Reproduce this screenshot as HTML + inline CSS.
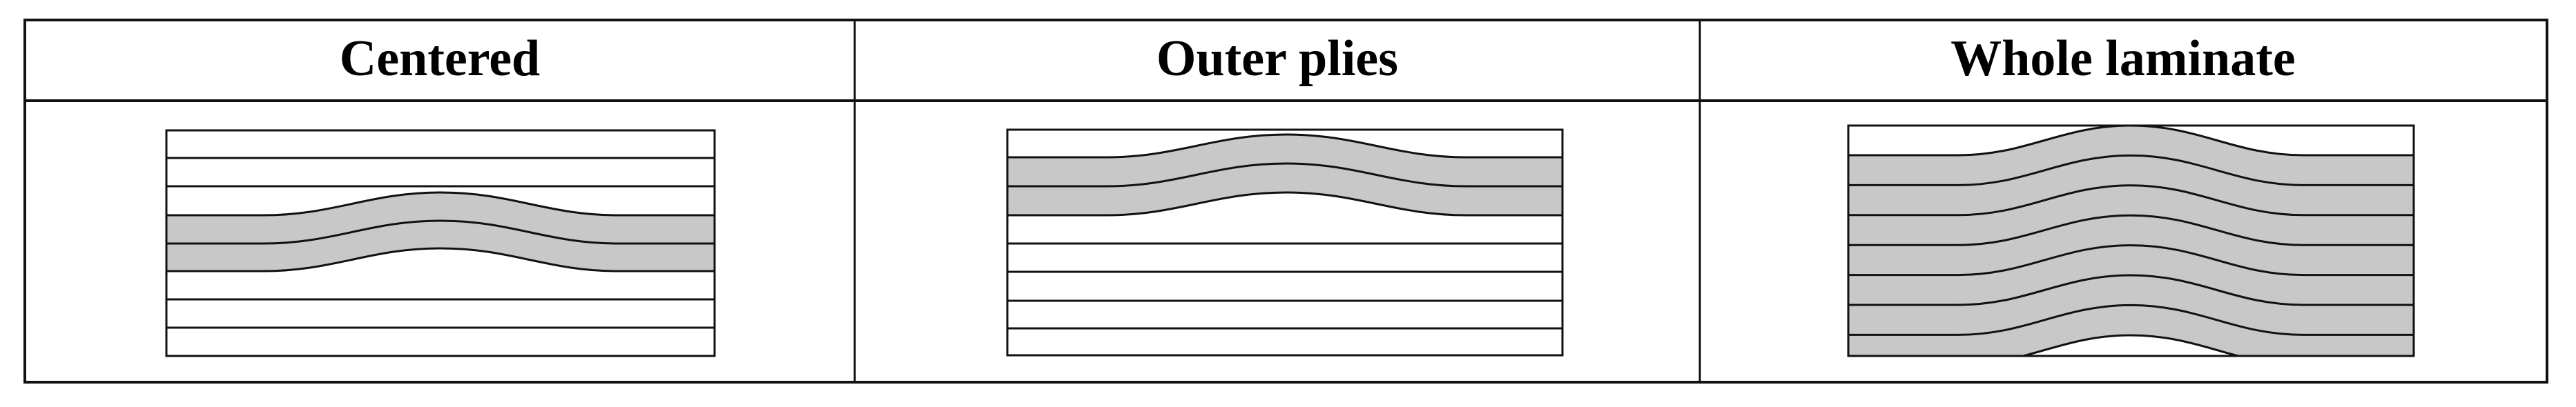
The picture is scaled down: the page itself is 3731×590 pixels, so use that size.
<!DOCTYPE html>
<html><head><meta charset="utf-8"><style>
html,body{margin:0;padding:0;background:#fff;}
svg{display:block;}
</style></head><body>
<svg width="3731" height="590" viewBox="0 0 3731 590" xmlns="http://www.w3.org/2000/svg">
<defs>
<clipPath id="cr"><rect x="2677" y="182" width="819" height="334"/></clipPath>
</defs>
<rect width="3731" height="590" fill="#fff"/>
<!-- table -->
<rect x="36" y="29" width="3653" height="525" fill="none" stroke="#111" stroke-width="4"/>
<line x1="36" y1="146" x2="3689" y2="146" stroke="#111" stroke-width="4"/>
<line x1="1238" y1="29" x2="1238" y2="554" stroke="#111" stroke-width="3"/>
<line x1="2462" y1="29" x2="2462" y2="554" stroke="#111" stroke-width="3"/>
<g font-family="'Liberation Serif', serif" font-weight="bold" font-size="74" text-anchor="middle" fill="#000">
<text x="637" y="109">Centered</text>
<text x="1850" y="109">Outer plies</text>
<text x="3075" y="109">Whole laminate</text>
</g>

<!-- Left panel -->
<g stroke="#111" stroke-width="3" fill="none">
<path d="M241,312 H381 C484,312 535,279 638,279 C741,279 792,312 895,312 H1035 V393 H895 C792,393 741,360 638,360 C535,360 484,393 381,393 H241 Z" fill="#c8c8c8" stroke="none"/>
<rect x="241" y="189" width="794" height="327"/>
<line x1="241" y1="229" x2="1035" y2="229"/>
<line x1="241" y1="270" x2="1035" y2="270"/>
<line x1="241" y1="434" x2="1035" y2="434"/>
<line x1="241" y1="475" x2="1035" y2="475"/>
<path d="M241,312 H381 C484,312 535,279 638,279 C741,279 792,312 895,312 H1035"/>
<path d="M241,353 H381 C484,353 535,320 638,320 C741,320 792,353 895,353 H1035"/>
<path d="M241,393 H381 C484,393 535,360 638,360 C741,360 792,393 895,393 H1035"/>
</g>

<!-- Middle panel -->
<g stroke="#111" stroke-width="3" fill="none">
<path d="M1459,228 H1602 C1706,228 1759,195 1863,195 C1967,195 2020,228 2124,228 H2263 V312 H2124 C2020,312 1967,279 1863,279 C1759,279 1706,312 1602,312 H1459 Z" fill="#c8c8c8" stroke="none"/>
<rect x="1459" y="188" width="804" height="327"/>
<path d="M1459,228 H1602 C1706,228 1759,195 1863,195 C1967,195 2020,228 2124,228 H2263"/>
<path d="M1459,270 H1602 C1706,270 1759,237 1863,237 C1967,237 2020,270 2124,270 H2263"/>
<path d="M1459,312 H1602 C1706,312 1759,279 1863,279 C1967,279 2020,312 2124,312 H2263"/>
<line x1="1459" y1="353" x2="2263" y2="353"/>
<line x1="1459" y1="394" x2="2263" y2="394"/>
<line x1="1459" y1="436" x2="2263" y2="436"/>
<line x1="1459" y1="476" x2="2263" y2="476"/>
</g>

<!-- Right panel -->
<g clip-path="url(#cr)" stroke="#111" stroke-width="3" fill="none">
<path d="M2677,225 H2836 C2936,225 2986,182 3086,182 C3186,182 3236,225 3336,225 H3496 V529 H3336 C3236,529 3186,486 3086,486 C2986,486 2936,529 2836,529 H2677 Z" fill="#c8c8c8" stroke="none"/>
<path d="M2677,225 H2836 C2936,225 2986,182 3086,182 C3186,182 3236,225 3336,225 H3496"/>
<path d="M2677,268.4 H2836 C2936,268.4 2986,225.4 3086,225.4 C3186,225.4 3236,268.4 3336,268.4 H3496"/>
<path d="M2677,311.8 H2836 C2936,311.8 2986,268.8 3086,268.8 C3186,268.8 3236,311.8 3336,311.8 H3496"/>
<path d="M2677,355.2 H2836 C2936,355.2 2986,312.2 3086,312.2 C3186,312.2 3236,355.2 3336,355.2 H3496"/>
<path d="M2677,398.6 H2836 C2936,398.6 2986,355.6 3086,355.6 C3186,355.6 3236,398.6 3336,398.6 H3496"/>
<path d="M2677,442 H2836 C2936,442 2986,399 3086,399 C3186,399 3236,442 3336,442 H3496"/>
<path d="M2677,485.4 H2836 C2936,485.4 2986,442.4 3086,442.4 C3186,442.4 3236,485.4 3336,485.4 H3496"/>
<path d="M2677,529 H2836 C2936,529 2986,486 3086,486 C3186,486 3236,529 3336,529 H3496"/>
</g>
<rect x="2677" y="182" width="819" height="334" fill="none" stroke="#111" stroke-width="3"/>
</svg>
</body></html>
